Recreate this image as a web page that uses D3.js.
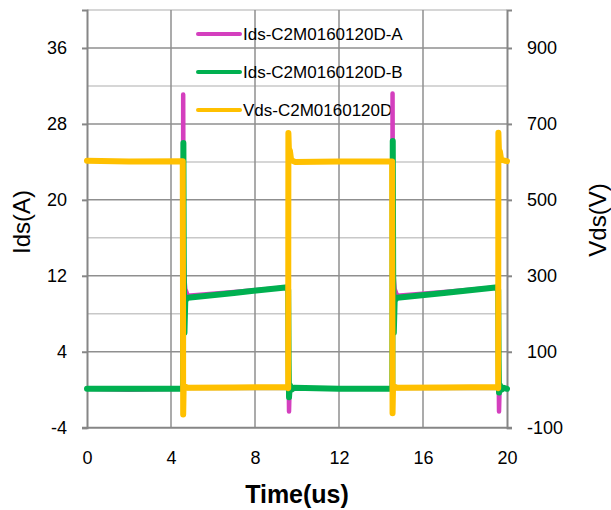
<!DOCTYPE html>
<meta charset="utf-8">
<head>
<script type="text/javascript" src="https://d3js.org/d3.v7.min.js"></script>
<style>
  body { margin: 0; background: #fff; }
  text { font-family: "Liberation Sans", Arial, sans-serif; fill: #000; }
</style>
</head>
<body>
<div id="chart"></div>
<script>

// series: [time (us), value]
var idsA = [[0,0.1],[2,0.0],[4.56,0.1],
  [4.57,0.2],[4.58,31.1],[4.60,15.0],[4.63,12.0],[4.68,10.6],[4.8,9.9],[7,10.3],[9.56,10.8],
  [9.58,10.6],[9.60,3.1],[9.62,-2.3],[9.65,0.4],[9.72,0.0],[9.85,0.1],[12,0.1],[14.53,0.1],
  [14.54,0.2],[14.55,31.2],[14.57,15.0],[14.60,12.0],[14.65,10.6],[14.77,9.9],[17,10.3],[19.56,10.8],
  [19.58,10.6],[19.60,3.0],[19.62,-2.3],[19.65,0.4],[19.72,0.0],[19.85,0.1],[20,0.1]];

var idsB = [[0,0.1],[2,0.1],[4.56,0.1],
  [4.57,0.2],[4.59,26.0],[4.61,12.0],[4.64,6.0],[4.68,9.4],[4.8,9.7],[7,10.2],[9.56,10.8],
  [9.58,10.5],[9.60,3.2],[9.62,-0.8],[9.66,0.5],[9.74,0.0],[9.85,0.2],[12,0.1],[14.53,0.1],
  [14.54,0.2],[14.56,26.2],[14.58,12.0],[14.61,6.0],[14.65,9.4],[14.77,9.7],[17,10.2],[19.56,10.8],
  [19.58,10.5],[19.60,3.2],[19.62,-0.3],[19.66,0.5],[19.74,0.0],[19.85,0.2],[20,0.1]];

var vds = [[0,603],[2,601],[4.56,602],
  [4.58,-65],[4.60,0],[4.63,9],[4.8,5],[7,6],[9.56,7],
  [9.58,4],[9.59,676],[9.61,640],[9.63,615],[9.66,630],[9.72,605],[9.9,600],[12,601],[14.53,601],
  [14.55,-62],[14.57,0],[14.60,9],[14.77,5],[17,6],[19.56,7],
  [19.58,4],[19.59,677],[19.61,640],[19.63,612],[19.66,628],[19.72,606],[19.9,603],[20,602]];

var seriesNames = ["Ids-C2M0160120D-A", "Ids-C2M0160120D-B", "Vds-C2M0160120D"];
var seriesColors = ["#d43fbe", "#00b050", "#ffc000"];

var xTicks = [0, 4, 8, 12, 16, 20];
var yLeftTicks = [-4, 4, 12, 20, 28, 36];
var yLeftMinor = [0, 8, 16, 24, 32, 40];
var yRightTicks = [-100, 100, 300, 500, 700, 900];

var W = 611, H = 510;
var plot = {left: 87, right: 507, top: 10, bottom: 427.7};

var svg = d3.select("#chart").append("svg")
    .attr("width", W)
    .attr("height", H);

var x = d3.scaleLinear().domain([0, 20]).range([plot.left, plot.right]);
var yA = d3.scaleLinear().domain([-4, 40]).range([plot.bottom, plot.top]);
var yV = d3.scaleLinear().domain([-100, 1000]).range([plot.bottom, plot.top]);

// gridlines
var grid = svg.append("g");
grid.selectAll(".minor").data(yLeftMinor).enter().append("line")
    .attr("x1", plot.left).attr("x2", plot.right)
    .attr("y1", d => yA(d)).attr("y2", d => yA(d))
    .attr("stroke", "#c8c8c8").attr("stroke-width", 1.5);
grid.selectAll(".major").data(yLeftTicks.slice(1)).enter().append("line")
    .attr("x1", plot.left).attr("x2", plot.right)
    .attr("y1", d => yA(d)).attr("y2", d => yA(d))
    .attr("stroke", "#8f8f8f").attr("stroke-width", 1.5);
grid.selectAll(".vert").data(xTicks.slice(1, -1)).enter().append("line")
    .attr("x1", d => x(d)).attr("x2", d => x(d))
    .attr("y1", plot.top).attr("y2", plot.bottom)
    .attr("stroke", "#8f8f8f").attr("stroke-width", 1.5);

// axes (plain hyphen for negatives, as in the original)
var fmt = d => String(d);
var axL = d3.axisLeft(yA).tickValues(yLeftTicks).tickSize(5).tickPadding(15).tickFormat(fmt);
var axR = d3.axisRight(yV).tickValues(yRightTicks).tickSize(5).tickPadding(15).tickFormat(fmt);
var axB = d3.axisBottom(x).tickValues(xTicks).tickSize(0).tickPadding(24).tickFormat(fmt);

function styleAxis(g) {
  g.select(".domain").attr("stroke", "#868686").attr("stroke-width", 2);
  g.selectAll(".tick line").attr("stroke", "#868686").attr("stroke-width", 2);
  g.selectAll(".tick text").style("font-size", "18px")
    .style("font-family", "'Liberation Sans', Arial, sans-serif").attr("fill", "#000");
}

svg.append("g").attr("transform", "translate(0," + plot.bottom + ")").call(axB).call(styleAxis)
  .call(g => g.select(".domain").remove());
svg.append("line").attr("x1", plot.left - 5).attr("x2", plot.right + 5)
  .attr("y1", plot.bottom).attr("y2", plot.bottom).attr("stroke", "#868686").attr("stroke-width", 2);
svg.append("g").attr("transform", "translate(" + plot.left + ",0)").call(axL).call(styleAxis);
svg.append("g").attr("transform", "translate(" + plot.right + ",0)").call(axR).call(styleAxis);

// legend
var legend = svg.append("g");
seriesNames.forEach(function(name, i) {
  var ly = 34 + i * 38;
  legend.append("line").attr("x1", 198).attr("x2", 240).attr("y1", ly).attr("y2", ly)
    .attr("stroke", seriesColors[i]).attr("stroke-width", 4).attr("stroke-linecap", "round");
  legend.append("text").attr("x", 243).attr("y", ly).attr("dy", "0.35em")
    .style("font-size", "17px").text(name);
});

// traces
var lineA = d3.line().x(d => x(d[0])).y(d => yA(d[1]));
var lineV = d3.line().x(d => x(d[0])).y(d => yV(d[1]));

svg.append("path").datum(idsA).attr("d", lineA).attr("fill", "none")
  .attr("stroke", seriesColors[0]).attr("stroke-width", 4.5).attr("stroke-linejoin", "round").attr("stroke-linecap", "round");
svg.append("path").datum(idsB).attr("d", lineA).attr("fill", "none")
  .attr("stroke", seriesColors[1]).attr("stroke-width", 6).attr("stroke-linejoin", "round").attr("stroke-linecap", "round");
svg.append("path").datum(vds).attr("d", lineV).attr("fill", "none")
  .attr("stroke", seriesColors[2]).attr("stroke-width", 6).attr("stroke-linejoin", "round").attr("stroke-linecap", "round");

// axis titles
svg.append("text").attr("transform", "translate(30,222) rotate(-90)")
  .attr("text-anchor", "middle").style("font-size", "24px").text("Ids(A)");
svg.append("text").attr("transform", "translate(606,220) rotate(-90)")
  .attr("text-anchor", "middle").style("font-size", "24px").text("Vds(V)");
svg.append("text").attr("x", 297).attr("y", 503)
  .attr("text-anchor", "middle").style("font-size", "25px").style("font-weight", "bold").text("Time(us)");

</script>
</body>
</html>
